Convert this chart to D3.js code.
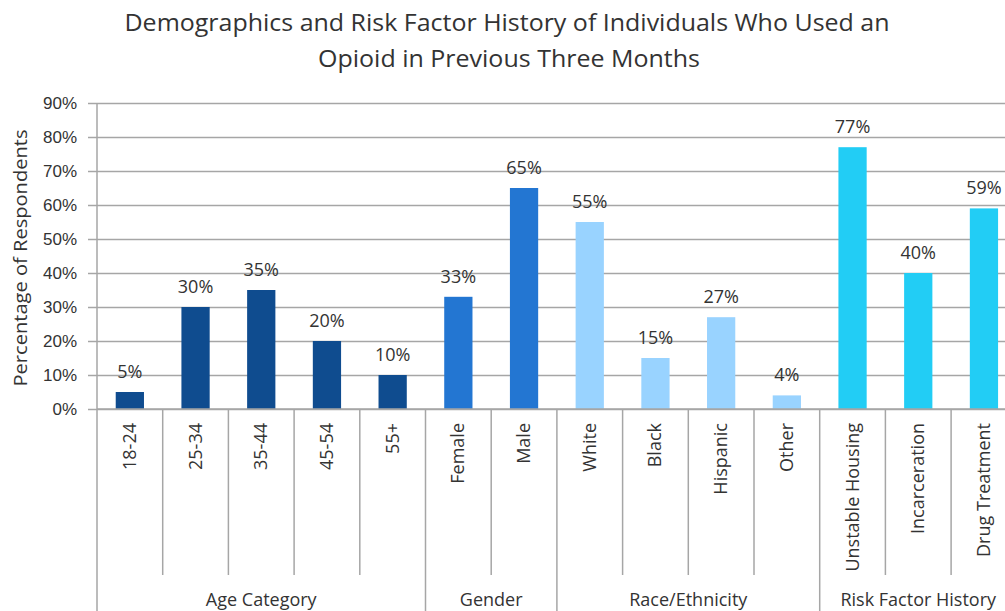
<!DOCTYPE html>
<html>
<head>
<meta charset="utf-8">
<script src="https://cdn.jsdelivr.net/npm/d3@7"></script>
<style>
  body { margin: 0; background: #fff; }
  svg { font-family: "Open Sans", sans-serif; }
</style>
</head>
<body>
<svg id="chart" width="1005" height="611"></svg>
<script>
// data
const categories = ["18-24", "25-34", "35-44", "45-54", "55+", "Female", "Male",
  "White", "Black", "Hispanic", "Other", "Unstable Housing", "Incarceration", "Drug Treatment"];
const values = [5, 30, 35, 20, 10, 33, 65, 55, 15, 27, 4, 77, 40, 59];
const groupOf = [0, 0, 0, 0, 0, 1, 1, 2, 2, 2, 2, 3, 3, 3];
const groups = ["Age Category", "Gender", "Race/Ethnicity", "Risk Factor History"];
const groupColors = ["#0f4c8f", "#2376d2", "#99d3ff", "#22cdf5"];
const yTicks = [0, 10, 20, 30, 40, 50, 60, 70, 80, 90];

var svg = d3.select("#chart");
var plotLeft = 97, plotTop = 103, plotBottom = 409, step = 65.7;
var plotRight = plotLeft + step * categories.length;

var x = d3.scaleBand()
  .domain(categories)
  .range([plotLeft, plotRight])
  .paddingInner(0.57)
  .paddingOuter(0.285);
var y = d3.scaleLinear().domain([0, 90]).range([plotBottom, plotTop]);

// title
var title = svg.append("g").attr("fill", "#333").style("font-size", "24px").attr("text-anchor", "middle");
title.append("text").attr("x", 507).attr("y", 31)
  .attr("textLength", 765).attr("lengthAdjust", "spacingAndGlyphs")
  .text("Demographics and Risk Factor History of Individuals Who Used an");
title.append("text").attr("x", 509).attr("y", 67)
  .attr("textLength", 382).attr("lengthAdjust", "spacingAndGlyphs")
  .text("Opioid in Previous Three Months");

// grid + y axis
var yAxis = d3.axisLeft(y)
  .tickValues(yTicks)
  .tickSize(-(1005 - plotLeft))
  .tickPadding(12)
  .tickFormat(d => d + "%");
var gy = svg.append("g").attr("transform", "translate(" + plotLeft + ",0)").call(yAxis);
gy.select(".domain").remove();
gy.selectAll(".tick line").attr("stroke", "#a6a6a6").attr("stroke-width", 1.5).attr("x1", -9);
gy.selectAll(".tick text").style("font-size", "17px").attr("fill", "#333").attr("x", -20);

svg.append("text")
  .attr("transform", "translate(27," + ((plotTop + plotBottom) / 2 + 2) + ") rotate(-90)")
  .attr("text-anchor", "middle")
  .attr("textLength", 257).attr("lengthAdjust", "spacingAndGlyphs")
  .style("font-size", "19px").attr("fill", "#333")
  .text("Percentage of Respondents");

// bars
svg.append("g").selectAll("rect")
  .data(categories)
  .enter().append("rect")
    .attr("x", d => x(d))
    .attr("width", x.bandwidth())
    .attr("y", (d, i) => y(values[i]))
    .attr("height", (d, i) => plotBottom - y(values[i]))
    .attr("fill", (d, i) => groupColors[groupOf[i]]);

svg.append("g").selectAll("text")
  .data(categories)
  .enter().append("text")
    .attr("x", d => x(d) + x.bandwidth() / 2)
    .attr("y", (d, i) => y(values[i]) - 14)
    .attr("text-anchor", "middle")
    .style("font-size", "18px").attr("fill", "#333")
    .text((d, i) => values[i] + "%");

// category axis
var sep = svg.append("g").attr("stroke", "#a6a6a6").attr("stroke-width", 1.5);
sep.append("line").attr("x1", plotLeft).attr("x2", 1005).attr("y1", plotBottom).attr("y2", plotBottom);
for (let i = 0; i <= categories.length; i++) {
  var xx = plotLeft + i * x.step();
  var isGroupEdge = i === 0 || i === categories.length || groupOf[i] !== groupOf[i - 1];
  sep.append("line")
    .attr("x1", xx).attr("x2", xx)
    .attr("y1", i === 0 ? plotTop : plotBottom)
    .attr("y2", isGroupEdge ? 611 : 575);
}

svg.append("g").selectAll("text")
  .data(categories)
  .enter().append("text")
    .attr("transform", d => "translate(" + (x(d) + x.bandwidth() / 2 + 6) + ",423) rotate(-90)")
    .attr("text-anchor", "end")
    .style("font-size", "18px").attr("fill", "#333")
    .text(d => d);

svg.append("g").selectAll("text")
  .data(groups)
  .enter().append("text")
    .attr("x", (g, gi) => {
      var idx = groupOf.map((v, i) => v === gi ? i : -1).filter(i => i >= 0);
      return plotLeft + (idx[0] + (idx[idx.length - 1] + 1)) / 2 * x.step();
    })
    .attr("y", 606)
    .attr("text-anchor", "middle")
    .style("font-size", "18px").attr("fill", "#333")
    .text(g => g);
</script>
</body>
</html>
